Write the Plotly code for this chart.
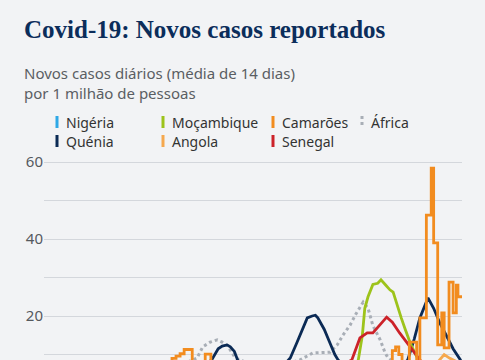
import plotly.graph_objects as go

# ---------------- data ----------------
kenya_dates = ["2020-03-15","2020-04-15","2020-05-15","2020-06-15","2020-07-12","2020-07-26","2020-08-03","2020-08-08",
               "2020-08-14","2020-08-18","2020-08-23","2020-08-27","2020-09-11","2020-09-24","2020-10-18","2020-10-31",
               "2020-11-08","2020-11-16","2020-11-21","2020-11-27","2020-12-01","2020-12-04","2020-12-12","2020-12-19",
               "2020-12-25","2020-12-29","2021-01-13","2021-02-06","2021-03-09","2021-03-25","2021-04-02","2021-04-09",
               "2021-04-19","2021-04-26","2021-05-04","2021-05-12","2021-05-20","2021-05-29","2021-05-31"]
kenya_vals = [0.1,0.5,1.5,3.5,6.5,8.6,11.5,12.2,12.5,12.0,10.8,8.6,5.5,4,6,9.1,
              13,17,19.5,20,20.2,19.5,16.5,13,10,8.6,5,3,5,8.6,14,19.5,24.7,22,18,14.8,11.5,8.6,8.0]

moz_dates = ["2020-04-01","2020-06-01","2020-08-01","2020-10-01","2020-12-01","2020-12-31","2021-01-15","2021-01-23",
             "2021-01-28","2021-01-31","2021-02-04","2021-02-10","2021-02-16","2021-02-20","2021-02-26","2021-03-03",
             "2021-03-07","2021-03-12","2021-03-17","2021-03-22","2021-03-29","2021-04-05","2021-04-10","2021-05-01","2021-05-31"]
moz_vals = [0,0.5,1.5,2,2,4,6,8.6,15,22,25,28.2,28.5,29.4,28,26.8,26.2,22.5,19.5,16.5,12.5,9.5,8.0,4,2]

sen_dates = ["2020-03-15","2020-05-15","2020-07-01","2020-08-10","2020-09-15","2020-11-01","2020-12-15","2021-01-15",
             "2021-01-25","2021-02-03","2021-02-10","2021-02-19","2021-02-27","2021-03-06","2021-03-15","2021-03-28",
             "2021-04-09","2021-05-01","2021-05-31"]
sen_vals = [0.2,3,5,7,3,1.5,5,8.6,14.3,15.6,15.6,17.7,19.7,18.4,15.6,12,8.6,4,3]

afr_dates = ["2020-03-01","2020-04-15","2020-05-15","2020-06-15","2020-07-08","2020-07-15","2020-07-24","2020-08-02",
             "2020-08-08","2020-08-15","2020-08-24","2020-09-24","2020-10-18","2020-11-12","2020-11-28","2020-12-09",
             "2020-12-19","2020-12-28","2021-01-04","2021-01-13","2021-01-20","2021-01-29","2021-02-04","2021-02-10",
             "2021-02-19","2021-02-25","2021-03-01","2021-03-15","2021-04-05","2021-05-01","2021-05-31"]
afr_vals = [0,1,3,7,9.1,12,13.2,13.8,13.2,12.2,9.1,6.5,7,8.6,10.4,10.6,10.6,12.5,15,17.7,20.5,23.6,22,17.5,
            13.8,10.5,9,7,7.5,8,7.5]

cam_dates = ["2020-03-15","2020-04-15","2020-05-11","2020-05-29","2020-06-07","2020-06-12","2020-06-17","2020-06-22",
             "2020-07-02","2020-07-18","2020-07-25","2020-08-20","2020-10-01","2020-12-01","2021-01-15","2021-02-19",
             "2021-03-03","2021-03-06","2021-03-10","2021-03-14","2021-03-18","2021-03-27","2021-04-05","2021-04-09",
             "2021-04-17","2021-04-23","2021-04-26","2021-05-01","2021-05-06","2021-05-09","2021-05-15","2021-05-20",
             "2021-05-24","2021-05-26","2021-05-31"]
cam_vals = [0,2,5,7.5,9.0,9.6,10.2,11.3,6,10.1,5,3,1.5,2,4,5,7.5,11,12,10,8,13.2,7,19.5,
            46.2,58.4,39,12.5,20.8,11.7,28.8,20.8,28,25,25]

ang_dates = ["2020-03-25","2020-06-01","2020-08-01","2020-10-01","2020-11-01","2020-12-01","2021-01-15","2021-03-01",
             "2021-04-01","2021-05-01","2021-05-09","2021-05-16","2021-05-31"]
ang_vals = [0,0.3,1.5,4,6.5,3,2,3,5.5,8,10,9,7.5]

nga_dates = ["2020-03-01","2020-05-01","2020-07-01","2020-08-01","2020-10-01","2020-12-20","2021-01-25","2021-03-01","2021-05-31"]
nga_vals = [0,0.5,3,2.3,0.8,4.5,7.5,3,0.3]

y_ticks = [0, 10, 20, 30, 40, 50, 60]
y_ticktext = ["0", "", "20", "", "40", "", "60"]

# ---------------- styling ----------------
BG = "#f2f3f5"
C_NGA = "#2fa8e6"
C_KEN = "#0b2a55"
C_MOZ = "#9dc31b"
C_ANG = "#f5a84e"
C_CAM = "#f28c1f"
C_SEN = "#cc2229"
C_AFR = "#a8aeb6"
LW = 2.8

fig = go.Figure()
fig.add_trace(go.Scatter(x=afr_dates, y=afr_vals, name="África", mode="lines",
                         line=dict(color=C_AFR, width=3, dash="dot")))
fig.add_trace(go.Scatter(x=nga_dates, y=nga_vals, name="Nigéria", mode="lines",
                         line=dict(color=C_NGA, width=LW)))
fig.add_trace(go.Scatter(x=kenya_dates, y=kenya_vals, name="Quénia", mode="lines",
                         line=dict(color=C_KEN, width=LW)))
fig.add_trace(go.Scatter(x=moz_dates, y=moz_vals, name="Moçambique", mode="lines",
                         line=dict(color=C_MOZ, width=LW)))
fig.add_trace(go.Scatter(x=sen_dates, y=sen_vals, name="Senegal", mode="lines",
                         line=dict(color=C_SEN, width=LW)))
fig.add_trace(go.Scatter(x=ang_dates, y=ang_vals, name="Angola", mode="lines",
                         line=dict(color=C_ANG, width=LW)))
fig.add_trace(go.Scatter(x=cam_dates, y=cam_vals, name="Camarões", mode="lines",
                         line=dict(color=C_CAM, width=LW, shape="hv")))

W, H = 485, 360
L, R, T, B = 44, 462, 155, 360

def px(x):
    return (x - L) / (R - L)

def py(y):
    return (B - y) / (B - T)

annotations = [
    dict(text="<b>Covid-19: Novos casos reportados</b>", x=px(22), y=py(30), xref="paper", yref="paper",
         xanchor="left", yanchor="middle", showarrow=False,
         font=dict(family="Liberation Serif", size=25, color="#0b2d5b")),
    dict(text="Novos casos diários (média de 14 dias)<br>por 1 milhão de pessoas", x=px(22), y=py(83),
         xref="paper", yref="paper", xanchor="left", yanchor="middle", showarrow=False, align="left",
         font=dict(family="Noto Sans", size=15, color="#5a5e63")),
]
shapes = []
legend_items = [
    ("Nigéria", C_NGA, 57, 122, "solid"),
    ("Quénia", C_KEN, 57, 141, "solid"),
    ("Moçambique", C_MOZ, 163, 122, "solid"),
    ("Angola", C_ANG, 163, 141, "solid"),
    ("Camarões", C_CAM, 273, 122, "solid"),
    ("Senegal", C_SEN, 273, 141, "solid"),
    ("África", C_AFR, 362, 122, "dot"),
]
for name, col, lx, ly, dash in legend_items:
    shapes.append(dict(type="line", xref="paper", yref="paper", x0=px(lx), x1=px(lx),
                       y0=py(ly - 6), y1=py(ly + 6), line=dict(color=col, width=3, dash=dash)))
    annotations.append(dict(text=name, x=px(lx + 7), y=py(ly), xref="paper", yref="paper",
                            xanchor="left", yanchor="middle", showarrow=False,
                            font=dict(family="Noto Sans", size=14, color="#333333")))

fig.update_layout(
    width=W, height=H,
    margin=dict(l=L, r=W - R, t=T, b=H - B, pad=0),
    paper_bgcolor=BG, plot_bgcolor=BG,
    showlegend=False,
    annotations=annotations, shapes=shapes,
    xaxis=dict(range=["2020-01-01", "2021-05-31"], showgrid=False, showticklabels=False,
               zeroline=False, showline=False, ticks="", automargin=False, fixedrange=True),
    yaxis=dict(range=[(393 - 360) / 3.85, (393 - 155) / 3.85], tickvals=y_ticks, ticktext=y_ticktext,
               showgrid=True, gridcolor="#d4d7dc", gridwidth=1, zeroline=False, showline=False,
               ticks="", automargin=False, fixedrange=True,
               tickfont=dict(family="Noto Sans", size=15, color="#55595e")),
)

fig.write_html("out.html", config={"displayModeBar": False},
               post_script="document.body.style.margin='0';document.body.style.overflow='hidden';document.body.style.background='" + BG + "';")
